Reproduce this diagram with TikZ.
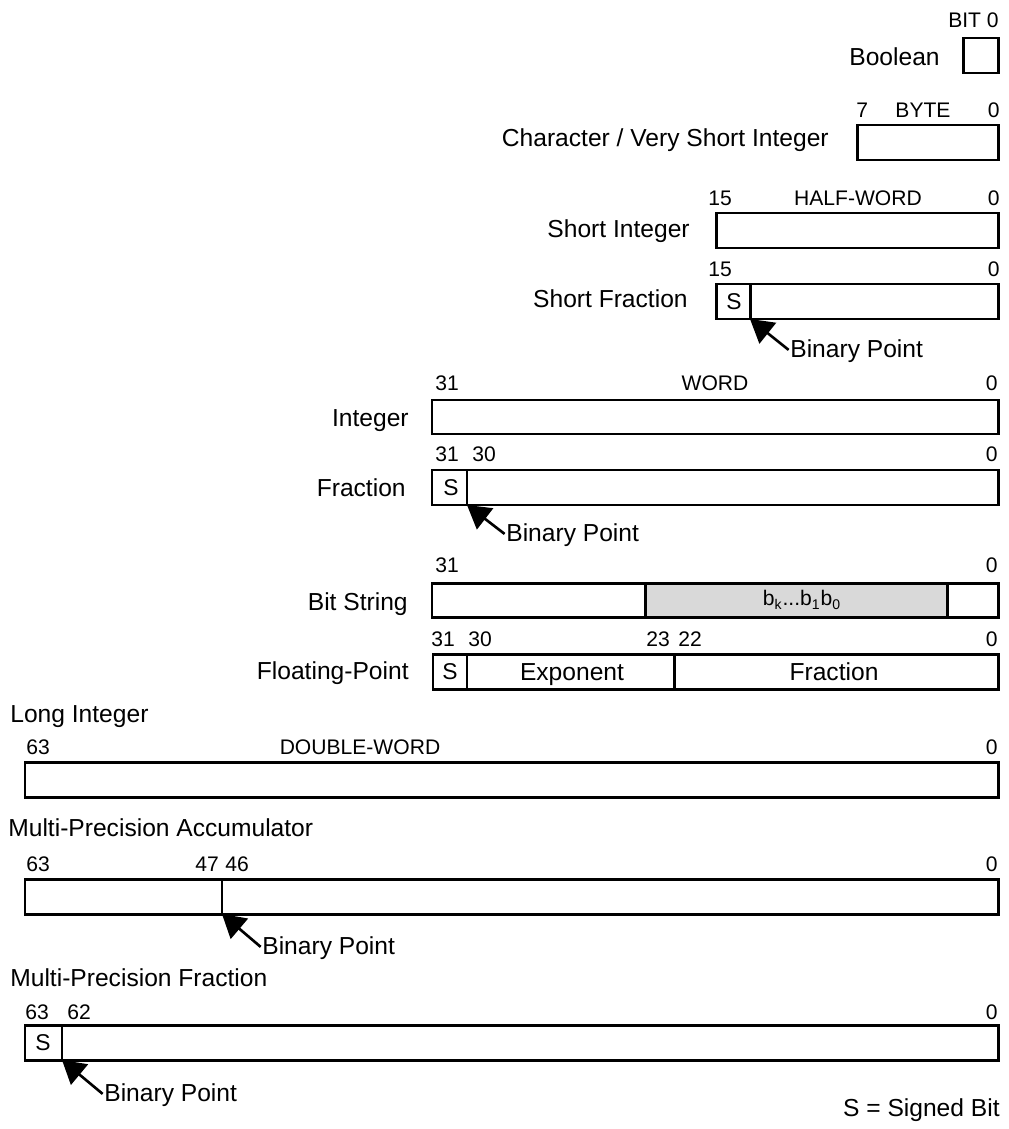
\documentclass[tikz,border=0pt]{standalone}
\usepackage{fontspec}
\setmainfont{Liberation Sans}
\usetikzlibrary{arrows.meta,positioning}

\begin{document}
\begin{tikzpicture}[x=0.02cm,y=-0.02cm,
  field/.style={draw,line width=1.7pt},
  lbl/.style={font=\fontsize{14}{16}\selectfont,inner sep=0pt},
  num/.style={font=\fontsize{12}{14}\selectfont,inner sep=0pt},
  sign/.style={font=\fontsize{13}{15}\selectfont,inner sep=0pt},
  bp/.style={-{Triangle[length=13pt,width=15pt]},line width=1.5pt,shorten <=1pt}]
\useasboundingbox (0,0) rectangle (1008,1129);

\node[num,anchor=base east] (bitzero) at (999,28) {BIT 0};
\node[lbl,anchor=base east] (boolean) at (940,65) {Boolean};
\draw[field] (963,38) rectangle (998,73);

\node[num,anchor=base west] (bytehi) at (856,117) {7};
\node[num,anchor=base] (byte) at (923,117) {BYTE};
\node[num,anchor=base east] (bytelo) at (1000,117) {0};
\node[lbl,anchor=base east] (character) at (829,146) {Character / Very Short Integer};
\draw[field] (857,125) rectangle (998,160);

\node[num,anchor=base west] (hwhi) at (708,205) {15};
\node[num,anchor=base] (halfword) at (858,205) {HALF-WORD};
\node[num,anchor=base east] (hwlo) at (1000,205) {0};
\node[lbl,anchor=base east] (shortint) at (690,237) {Short Integer};
\draw[field] (716,213) rectangle (998,248);

\node[num,anchor=base west] (sfhi) at (708,276) {15};
\node[num,anchor=base east] (sflo) at (1000,276) {0};
\node[lbl,anchor=base east] (shortfrac) at (688,307) {Short Fraction};
\draw[field] (716,284) rectangle (998,319);
\draw[field] (750,284) -- (750,319) coordinate (sfdiv);
\node[sign,anchor=base] (sfsign) at (734,309) {S};
\node[lbl,anchor=west] (sfbp) at (790,351) {Binary Point};
\draw[bp] (sfbp.west) -- (sfdiv);

\node[num,anchor=base west] (wordhi) at (435,390) {31};
\node[num,anchor=base] (word) at (715,390) {WORD};
\node[num,anchor=base east] (wordlo) at (998,390) {0};
\node[lbl,anchor=base east] (integer) at (409,426) {Integer};
\draw[field] (432,400) rectangle (998,434);

\node[num,anchor=base west] (frhi) at (435,461) {31};
\node[num,anchor=base west] (frnext) at (472,461) {30};
\node[num,anchor=base east] (frlo) at (998,461) {0};
\node[lbl,anchor=base east] (fraction) at (406,496) {Fraction};
\draw[field] (432,470) rectangle (998,505);
\draw[field] (467,470) -- (467,505) coordinate (frdiv);
\node[sign,anchor=base] (frsign) at (451,495) {S};
\node[lbl,anchor=west] (frbp) at (506,535) {Binary Point};
\draw[bp] (frbp.west) -- (frdiv);

\node[num,anchor=base west] (bshi) at (435,572) {31};
\node[num,anchor=base east] (bslo) at (998,572) {0};
\node[lbl,anchor=base east] (bitstring) at (408,610) {Bit String};
\fill[black!15] (645,583) rectangle (947,617);
\draw[field] (432,583) rectangle (998,617);
\draw[field] (645,583) -- (645,617) (947,583) -- (947,617);
\node[num] (bits) at (802,600) {b\textsubscript{k}...b\textsubscript{1}b\textsubscript{0}};

\node[num,anchor=base west] (fphi) at (431,646) {31};
\node[num,anchor=base west] (fpexphi) at (468,646) {30};
\node[num,anchor=base west] (fpexplo) at (646,646) {23};
\node[num,anchor=base west] (fpfrhi) at (678,646) {22};
\node[num,anchor=base east] (fplo) at (998,646) {0};
\node[lbl,anchor=base east] (floating) at (409,679) {Floating-Point};
\draw[field] (433,654) rectangle (998,689);
\draw[field] (467,654) -- (467,689) (674,654) -- (674,689);
\node[sign,anchor=base] (fpsign) at (450,679) {S};
\node[lbl,anchor=base] (exponent) at (572,680) {Exponent};
\node[lbl,anchor=base] (fpfrac) at (834,680) {Fraction};

\node[lbl,anchor=base west] (longint) at (10,722) {Long Integer};
\node[num,anchor=base west] (dwhi) at (26,754) {63};
\node[num,anchor=base] (dword) at (360,754) {DOUBLE-WORD};
\node[num,anchor=base east] (dwlo) at (998,754) {0};
\draw[field] (25,762) rectangle (998,797);

\node[lbl,anchor=base west] (accum) at (8,836) {Multi-Precision Accumulator};
\node[num,anchor=base west] (mahi) at (26,871) {63};
\node[num,anchor=base west] (maint) at (195,871) {47};
\node[num,anchor=base west] (mafrac) at (225,871) {46};
\node[num,anchor=base east] (malo) at (998,871) {0};
\draw[field] (25,879) rectangle (998,914);
\draw[field] (222,879) -- (222,914) coordinate (madiv);
\node[lbl,anchor=west] (mabp) at (262,948) {Binary Point};
\draw[bp] (mabp.west) -- (madiv);

\node[lbl,anchor=base west] (mpfrac) at (10,986) {Multi-Precision Fraction};
\node[num,anchor=base west] (mfhi) at (25,1019) {63};
\node[num,anchor=base west] (mfnext) at (67,1019) {62};
\node[num,anchor=base east] (mflo) at (998,1019) {0};
\draw[field] (25,1025) rectangle (998,1060);
\draw[field] (62,1025) -- (62,1060) coordinate (mfdiv);
\node[sign,anchor=base] (mfsign) at (43,1050) {S};
\node[lbl,anchor=west] (mfbp) at (104,1095) {Binary Point};
\draw[bp] (mfbp.west) -- (mfdiv);

\node[lbl,anchor=base east] (legend) at (1000,1116) {S = Signed Bit};
\end{tikzpicture}
\end{document}
